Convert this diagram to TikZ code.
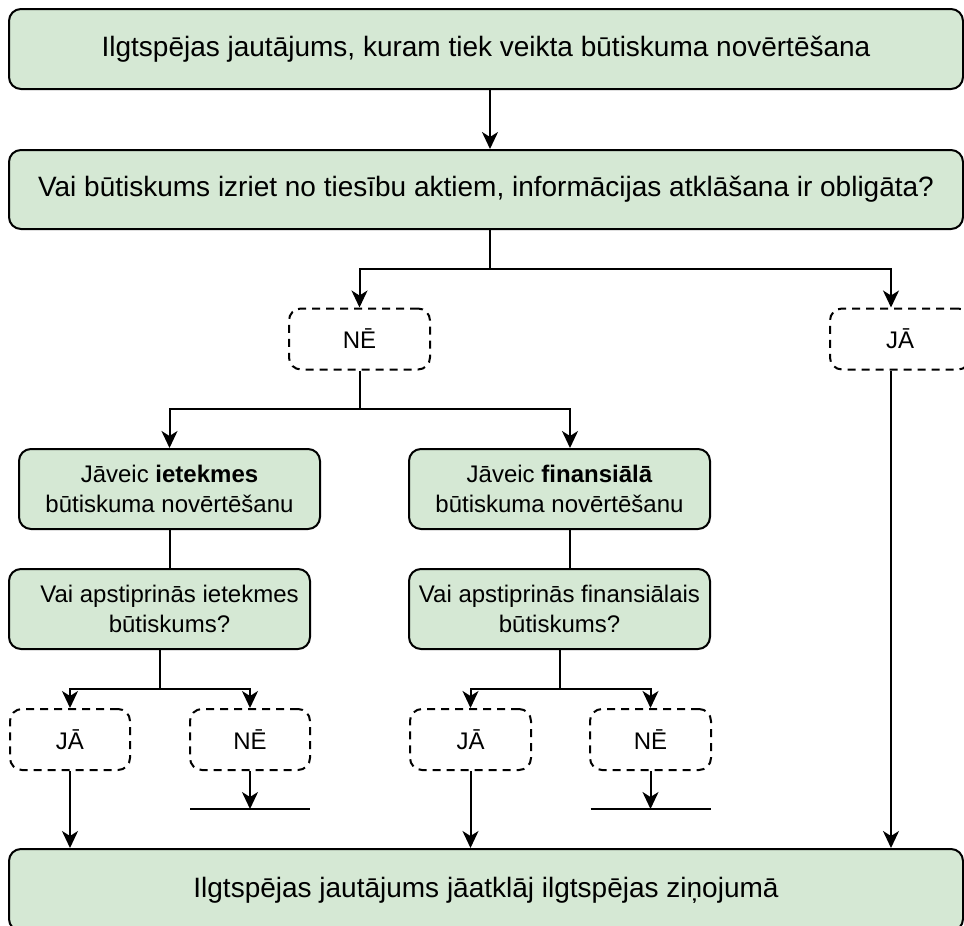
\documentclass[tikz,border=0pt]{standalone}
\usepackage{fontspec}
\setmainfont{Liberation Sans}
\usepackage{tikz}
\usetikzlibrary{arrows.meta}
\definecolor{boxgreen}{HTML}{D5E8D4}
\tikzset{box/.style={rectangle, rounded corners=12pt, line width=2pt, draw, fill=boxgreen, align=center}}
\tikzset{big/.style={minimum width=954pt, font=\fontsize{28}{34}\selectfont}}
\tikzset{small/.style={minimum width=301pt, minimum height=80pt, font=\fontsize{24}{30}\selectfont}}
\tikzset{opt/.style={
   rectangle, rounded corners=12pt, line width=2pt, draw,
   dash pattern=on 8pt off 6pt,
   minimum width=120pt, minimum height=61pt,
   font=\fontsize{24}{30}\selectfont
}}
\tikzset{arr/.style={line width=2pt, -{Stealth[length=17pt, width=16pt, inset=5pt]}}}
\tikzset{ln/.style={line width=2pt}}

\begin{document}
\begin{tikzpicture}[x=1pt, y=-1pt]

    \useasboundingbox (0,0) rectangle (964,926);

    \node[box, big, minimum height=80pt] (issue) at (486,49) {Ilgtspējas jautājums, kuram tiek veikta būtiskuma novērtēšana};
    \node[box, big, minimum height=79pt] (law) at (486,189.5) {Vai būtiskums izriet no tiesību aktiem, informācijas atklāšana ir obligāta?};

    \node[opt, minimum width=141pt] (lawno) at (359.5,339) {NĒ};
    \node[opt, minimum width=140pt] (lawyes) at (900,339) {JĀ};

    \node[box, small] (impact) at (169.5,489) {Jāveic \textbf{ietekmes}\\būtiskuma novērtēšanu};
    \node[box, small] (fin) at (559.5,489) {Jāveic \textbf{finansiālā}\\būtiskuma novērtēšanu};

    \node[box, small, label={[xshift=10pt, align=center, font=\fontsize{24}{30}\selectfont]center:Vai apstiprinās ietekmes\\būtiskums?}] (qimpact) at (159.5,609) {};
    \node[box, small] (qfin) at (559.5,609) {Vai apstiprinās finansiālais\\būtiskums?};

    \node[opt] (impyes) at (70,739.5) {JĀ};
    \node[opt] (impno) at (250,739.5) {NĒ};
    \node[opt, minimum width=121pt] (finyes) at (470.5,739.5) {JĀ};
    \node[opt, minimum width=121pt] (finno) at (650.5,739.5) {NĒ};

    \node[box, big, minimum height=82pt] (report) at (486,890) {Ilgtspējas jautājums jāatklāj ilgtspējas ziņojumā};

    \coordinate (lawsplit) at (490,269);
    \coordinate (nosplit) at (359.5,409);
    \coordinate (impsplit) at (159.5,689);
    \coordinate (finsplit) at (559.5,689);
    \coordinate (impstop) at (250,809);
    \coordinate (finstop) at (650.5,809);

    \draw[arr] ([xshift=4pt]issue.south) -- ([xshift=4pt]law.north);

    \draw[ln] ([xshift=4pt]law.south) -- (lawsplit);
    \draw[arr] (lawsplit) -| (lawno.north);
    \draw[arr] (lawsplit) -| ([xshift=-9pt]lawyes.north);

    \draw[ln] (lawno.south) -- (nosplit);
    \draw[arr] (nosplit) -| (impact.north);
    \draw[arr] (nosplit) -| ([xshift=10.5pt]fin.north);

    \draw[ln] (impact.south) -- (impact.south |- qimpact.north);
    \draw[ln] ([xshift=10.5pt]fin.south) -- ([xshift=10.5pt]fin.south |- qfin.north);

    \draw[ln] (qimpact.south) -- (impsplit);
    \draw[arr] (impsplit) -| (impyes.north);
    \draw[arr] (impsplit) -| (impno.north);
    \draw[ln] (qfin.south) -- (finsplit);
    \draw[arr] (finsplit) -| (finyes.north);
    \draw[arr] (finsplit) -| (finno.north);

    \draw[arr] (impyes.south) -- (impyes.south |- report.north);
    \draw[arr] (finyes.south) -- (finyes.south |- report.north);
    \draw[arr] ([xshift=-9pt]lawyes.south) -- ([xshift=-9pt]lawyes.south |- report.north);

    \draw[arr] (impno.south) -- (impstop);
    \draw[ln] ([xshift=-60pt]impstop) -- ([xshift=60pt]impstop);
    \draw[arr] (finno.south) -- (finstop);
    \draw[ln] ([xshift=-60pt]finstop) -- ([xshift=60pt]finstop);

\end{tikzpicture}
\end{document}
